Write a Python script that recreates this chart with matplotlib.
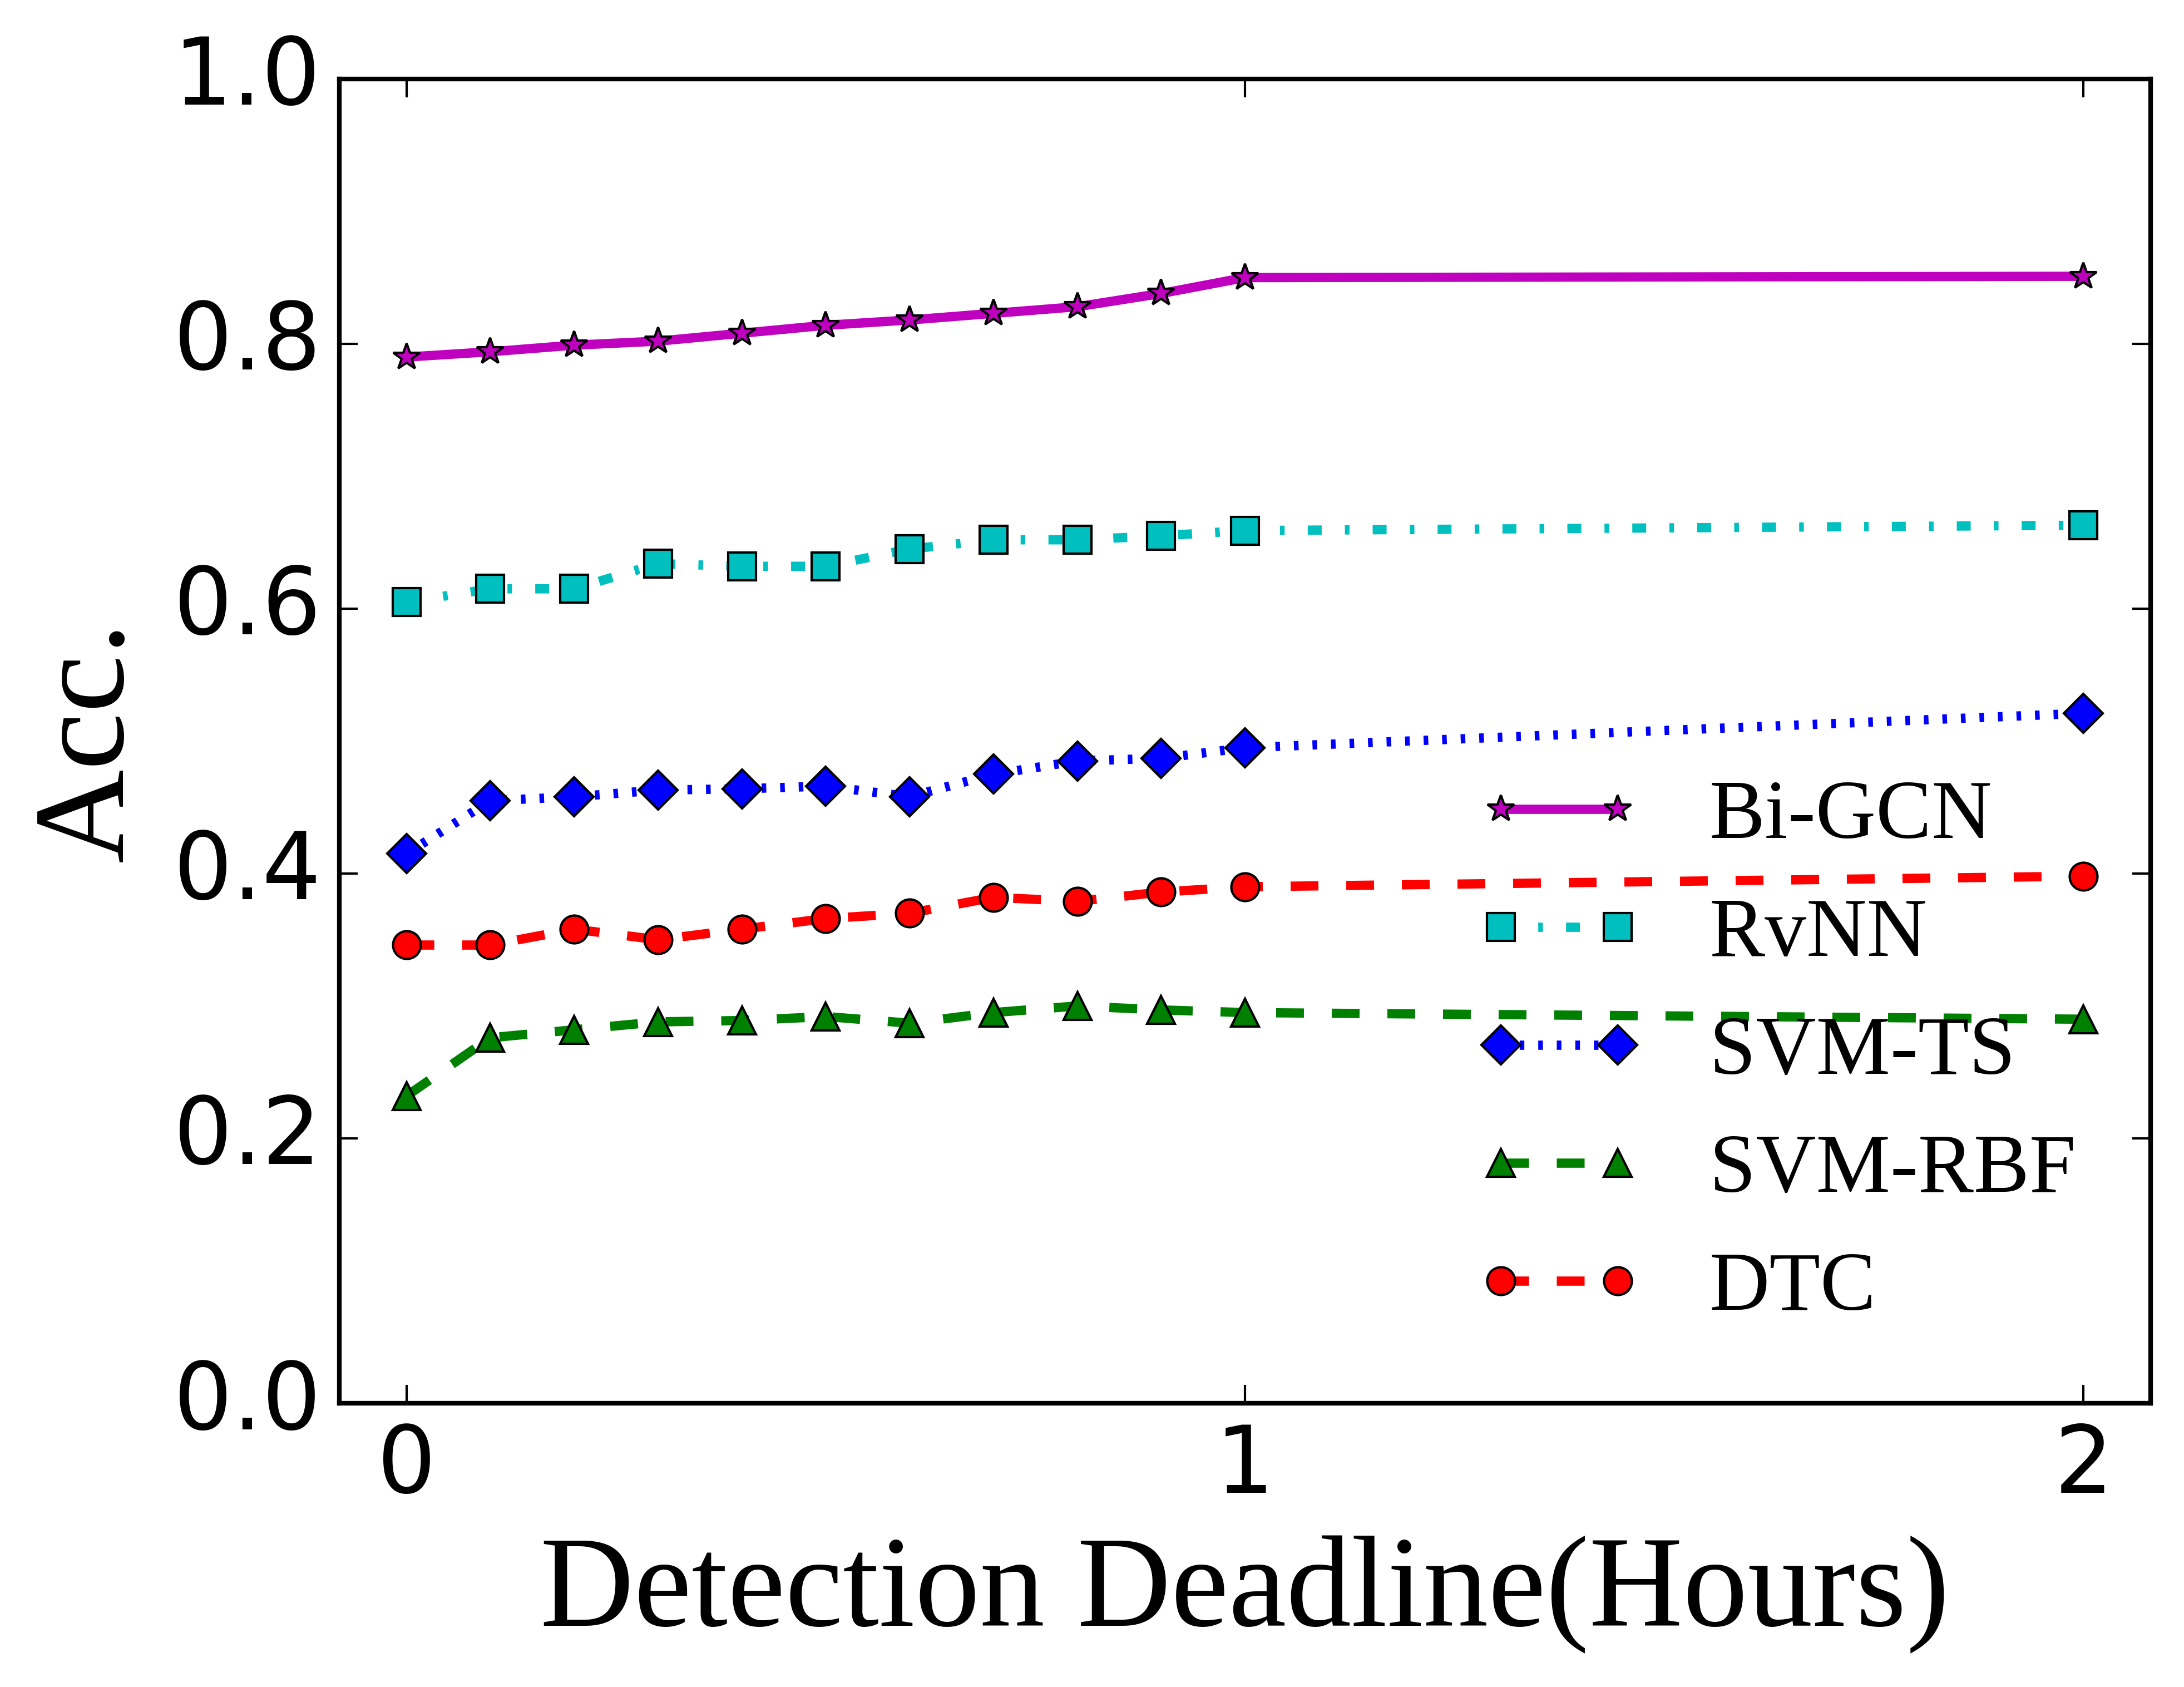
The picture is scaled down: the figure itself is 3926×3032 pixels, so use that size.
import numpy as np
import matplotlib
matplotlib.use('Agg')
from matplotlib import pyplot as plt

plt.style.use('classic')

hours = [0, 0.1, 0.2, 0.3, 0.4, 0.5, 0.6, 0.7, 0.8, 0.9, 1, 2]

bigcn = [0.790, 0.794, 0.799, 0.802, 0.808, 0.814, 0.818, 0.823, 0.828, 0.838, 0.850, 0.851]
rvnn = [0.605, 0.615, 0.615, 0.634, 0.632, 0.632, 0.645, 0.652, 0.652, 0.655, 0.659, 0.663]
svm_ts = [0.415, 0.455, 0.458, 0.463, 0.464, 0.466, 0.458, 0.475, 0.485, 0.487, 0.495, 0.521]
svm_rbf = [0.232, 0.276, 0.282, 0.288, 0.289, 0.292, 0.287, 0.295, 0.300, 0.297, 0.295, 0.290]
dtc = [0.346, 0.346, 0.358, 0.350, 0.358, 0.366, 0.370, 0.382, 0.379, 0.386, 0.390, 0.398]

serif = ['Liberation Serif', 'DejaVu Serif']

fig = plt.figure(figsize=(3926/600., 3032/600.), dpi=600)
fig.patch.set_facecolor('white')
ax = fig.add_axes([0.1554, 0.1682, 0.9847-0.1554, 0.9532-0.1682])

kw = dict(lw=2, ms=6, mew=0.5, mec='k')
ax.plot(hours, bigcn, color='m', ls='-', marker='*', label='Bi-GCN', **kw)
ax.plot(hours, rvnn, color='c', ls='-.', marker='s', label='RvNN', **kw)
ax.plot(hours, svm_ts, color='b', ls=':', marker='D', label='SVM-TS', **kw)
ax.plot(hours, svm_rbf, color='g', ls='--', marker='^', label='SVM-RBF', **kw)
ax.plot(hours, dtc, color='r', ls='--', marker='o', label='DTC', **kw)

ax.set_xlim(-0.08, 2.08)
ax.set_ylim(0, 1.0)
ax.set_xticks([0, 1, 2])
ax.set_yticks([0.0, 0.2, 0.4, 0.6, 0.8, 1.0])
ax.tick_params(labelsize=20, pad=4, length=4, width=0.5)
for s in ax.spines.values():
    s.set_linewidth(1.0)

ax.set_xlabel('Detection Deadline(Hours)', fontsize=28, family=serif, labelpad=5)
ax.set_ylabel('Acc.', fontsize=28, family=serif, labelpad=5)

ax.legend(loc='center left', bbox_to_anchor=(0.609, 0.264), borderaxespad=0,
          frameon=False, numpoints=2, handlelength=2.0, handletextpad=0.8,
          labelspacing=0.5, prop={'family': serif, 'size': 18})

fig.savefig('out.png', dpi=600, facecolor='white')
